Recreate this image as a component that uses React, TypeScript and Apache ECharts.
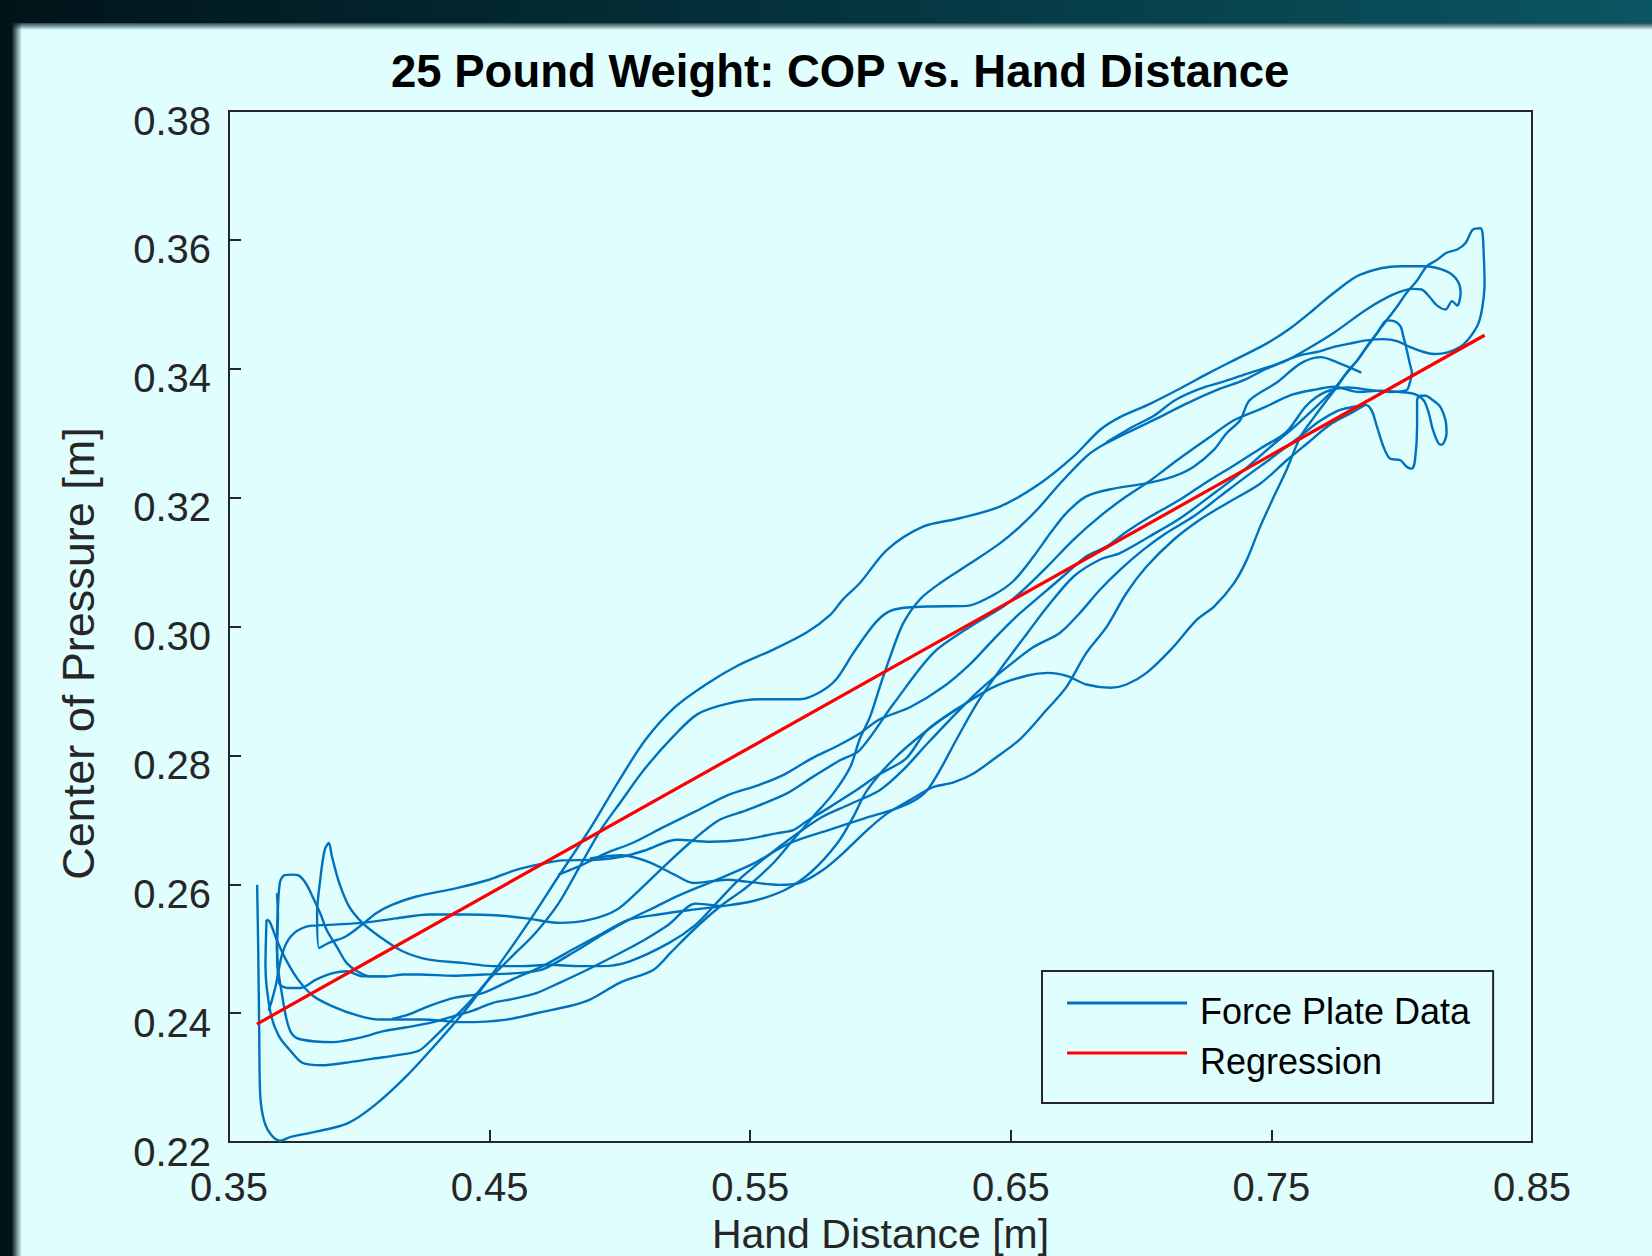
import React, { useEffect, useRef } from "react";
import * as echarts from "echarts";

const titleText = "25 Pound Weight: COP vs. Hand Distance";
const xName = "Hand Distance [m]";
const yName = "Center of Pressure [m]";
const legendNames = ["Force Plate Data", "Regression"];

const xTicks = { min: 0.35, max: 0.85, step: 0.1 };
const yTicks = { min: 0.22, max: 0.38, step: 0.02 };

// Force plate trajectory, split into passes (hand distance [m], COP [m])
const pass1: [number, number][] = [
  [0.3608,0.2599],[0.3612,0.2501],[0.3616,0.2370],[0.3620,0.2272],[0.3636,0.2231],[0.3664,0.2210],[0.3697,0.2202],[0.3737,0.2208],[0.3834,0.2216],[0.3955,0.2229],[0.4056,0.2256],[0.4178,0.2301],[0.4299,0.2354],[0.4420,0.2411],[0.4529,0.2471],[0.4643,0.2537],[0.4764,0.2612],[0.4885,0.2686],[0.4986,0.2754],[0.5096,0.2823],[0.5209,0.2874],[0.5330,0.2910],[0.5451,0.2939],[0.5593,0.2965],[0.5718,0.2991],[0.5807,0.3018],[0.5856,0.3042],[0.5920,0.3067],[0.6025,0.3119],[0.6163,0.3155],[0.6304,0.3168],[0.6458,0.3186],[0.6612,0.3222],[0.6741,0.3264],[0.6842,0.3305],[0.6919,0.3325],[0.7036,0.3346],[0.7162,0.3372],[0.7263,0.3394],[0.7380,0.3418],[0.7481,0.3439],[0.7570,0.3462],[0.7663,0.3492],[0.7740,0.3518],[0.7841,0.3546],[0.7995,0.3559],[0.8084,0.3559],[0.8173,0.3551],[0.8213,0.3537],[0.8226,0.3518],[0.8213,0.3498],[0.8193,0.3505],[0.8169,0.3492],[0.8136,0.3498],[0.8108,0.3511],[0.8076,0.3523],[0.8043,0.3524],[0.7966,0.3515],[0.7865,0.3492],[0.7740,0.3456],[0.7635,0.3430],[0.7558,0.3413],[0.7481,0.3400],[0.7392,0.3382],[0.7303,0.3369],[0.7174,0.3346],[0.7061,0.3323],[0.6943,0.3300],[0.6842,0.3279],[0.6790,0.3264],[0.6689,0.3222],[0.6612,0.3186],[0.6535,0.3155],[0.6458,0.3129],[0.6345,0.3098],[0.6228,0.3067],[0.6151,0.3042],[0.6086,0.3004],[0.6038,0.2954],[0.5997,0.2906],[0.5961,0.2861],[0.5920,0.2825],[0.5884,0.2782],[0.5819,0.2741],[0.5742,0.2705],[0.5665,0.2669],[0.5589,0.2633],[0.5488,0.2596],[0.5383,0.2565],[0.5282,0.2529],[0.5193,0.2493],[0.5128,0.2467],[0.4999,0.2447],[0.4885,0.2421],[0.4808,0.2411],[0.4691,0.2401],[0.4566,0.2390],[0.4400,0.2386],[0.4239,0.2390],[0.4077,0.2390],[0.3996,0.2396],[0.3895,0.2411],[0.3822,0.2427],[0.3765,0.2452],[0.3721,0.2481],[0.3685,0.2512],[0.3656,0.2542],[0.3644,0.2545]
];

const pass2: [number, number][] = [
  [0.3644,0.2545],[0.3640,0.2473],[0.3660,0.2399],[0.3692,0.2364],[0.3737,0.2341],[0.3781,0.2323],[0.3858,0.2319],[0.3947,0.2323],[0.4048,0.2329],[0.4166,0.2336],[0.4230,0.2342],[0.4279,0.2359],[0.4344,0.2385],[0.4420,0.2416],[0.4497,0.2452],[0.4586,0.2488],[0.4675,0.2524],[0.4764,0.2570],[0.4845,0.2627],[0.4926,0.2684],[0.5007,0.2730],[0.5091,0.2777],[0.5204,0.2829],[0.5298,0.2864],[0.5410,0.2880],[0.5536,0.2887],[0.5690,0.2887],[0.5767,0.2898],[0.5832,0.2919],[0.5896,0.2959],[0.5985,0.3008],[0.6050,0.3026],[0.6179,0.3031],[0.6333,0.3032],[0.6434,0.3049],[0.6511,0.3071],[0.6588,0.3109],[0.6652,0.3145],[0.6713,0.3176],[0.6790,0.3202],[0.6895,0.3214],[0.7020,0.3222],[0.7125,0.3233],[0.7202,0.3248],[0.7279,0.3274],[0.7328,0.3300],[0.7380,0.3320],[0.7416,0.3351],[0.7522,0.3379],[0.7611,0.3408],[0.7688,0.3418],[0.7764,0.3408],[0.7845,0.3394]
];

const pass3: [number, number][] = [
  [0.6305,0.2875],[0.6179,0.2839],
  [0.6098,0.2795],[0.5997,0.2771],[0.5896,0.2743],[0.5795,0.2717],[0.5714,0.2697],
  [0.5665,0.2684],[0.5600,0.2679],[0.5472,0.2669],[0.5346,0.2666],[0.5217,0.2669],[0.5100,0.2653],[0.5011,0.2643],[0.4906,0.2638],[0.4781,0.2637],[0.4704,0.2632],[0.4599,0.2622],[0.4498,0.2607],[0.4373,0.2594],[0.4219,0.2581],[0.4125,0.2568],[0.4065,0.2555],[0.4000,0.2534],[0.3948,0.2519],[0.3883,0.2509],[0.3846,0.2501],[0.3838,0.2555],[0.3850,0.2607],[0.3867,0.2653],[0.3883,0.2664],[0.3895,0.2643],[0.3923,0.2602],[0.3960,0.2566],[0.4012,0.2540],[0.4077,0.2519],[0.4166,0.2496],[0.4267,0.2483],[0.4396,0.2478],[0.4509,0.2473],[0.4627,0.2473],[0.4728,0.2475],[0.4845,0.2473],[0.4934,0.2473],[0.5035,0.2480],[0.5189,0.2509],[0.5290,0.2537],[0.5371,0.2571],[0.5451,0.2605],[0.5564,0.2643],[0.5665,0.2674],[0.5774,0.2704],[0.5876,0.2723],[0.5997,0.2746],[0.6086,0.2777],[0.6179,0.2818],[0.6268,0.2856],[0.6369,0.2897],[0.6458,0.2928],[0.6587,0.2968],[0.6688,0.2990],[0.6765,0.3021],[0.6842,0.3057],[0.6919,0.3088],[0.7008,0.3119],[0.7097,0.3145],[0.7202,0.3171],[0.7303,0.3202],[0.7404,0.3233],[0.7509,0.3264],[0.7610,0.3295],[0.7683,0.3318],[0.7756,0.3335],[0.7817,0.3341],[0.7861,0.3344],[0.7885,0.3335],[0.7905,0.3310],[0.7930,0.3279],[0.7954,0.3261],[0.7995,0.3258],[0.8019,0.3248],[0.8039,0.3245],[0.8051,0.3258],[0.8059,0.3310],[0.8059,0.3351],[0.8071,0.3358],[0.8091,0.3358],[0.8120,0.3351],[0.8148,0.3341],[0.8168,0.3320],[0.8172,0.3300],[0.8160,0.3284],[0.8148,0.3282],[0.8120,0.3305],[0.8104,0.3331],[0.8084,0.3351],[0.8047,0.3361],[0.7991,0.3364],[0.7918,0.3366],[0.7837,0.3364],[0.7740,0.3372],[0.7659,0.3367],[0.7574,0.3359],[0.7473,0.3340],[0.7356,0.3320],[0.7267,0.3295],[0.7138,0.3258],[0.7037,0.3227],[0.6944,0.3202],[0.6842,0.3171],[0.6741,0.3135],[0.6640,0.3093],[0.6535,0.3052],[0.6471,0.3031],[0.6345,0.3000],[0.6203,0.2959],[0.6050,0.2880],[0.5920,0.2808],[0.5843,0.2792],[0.5742,0.2767],[0.5641,0.2741],[0.5487,0.2715],[0.5383,0.2700],[0.5282,0.2669],[0.5168,0.2627],[0.5075,0.2591],[0.4986,0.2560],[0.4885,0.2545],[0.4768,0.2540],[0.4643,0.2547],[0.4521,0.2552],[0.4400,0.2553],[0.4266,0.2553],[0.4141,0.2547],[0.4012,0.2540],[0.3883,0.2537],[0.3794,0.2534],[0.3737,0.2519],[0.3705,0.2493],[0.3680,0.2444],[0.3664,0.2419],[0.3652,0.2404]
];

const pass4: [number, number][] = [
  [0.5391,0.2566],[0.5290,0.2570],[0.5189,0.2538],
  [0.5087,0.2512],[0.4999,0.2493],[0.4873,0.2467],[0.4768,0.2447],[0.4679,0.2431],[0.4590,0.2422],[0.4513,0.2416],[0.4436,0.2404],[0.4360,0.2395],[0.4283,0.2386],[0.4182,0.2378],[0.4093,0.2372],[0.4004,0.2362],[0.3899,0.2355],[0.3777,0.2359],[0.3741,0.2368],[0.3721,0.2390],[0.3701,0.2435],[0.3688,0.2471],[0.3684,0.2514],[0.3688,0.2565],[0.3696,0.2604],[0.3713,0.2614],[0.3741,0.2615],[0.3765,0.2614],[0.3794,0.2602],[0.3818,0.2583],[0.3850,0.2555],[0.3875,0.2529],[0.3915,0.2502],[0.3951,0.2478],[0.3992,0.2465],[0.4040,0.2457],[0.4105,0.2457],[0.4170,0.2460],[0.4234,0.2460],[0.4360,0.2458],[0.4481,0.2460],[0.4603,0.2462],[0.4704,0.2468],[0.4829,0.2496],[0.4934,0.2522],[0.5035,0.2545],[0.5137,0.2565],[0.5229,0.2583],[0.5371,0.2607],[0.5512,0.2632],[0.5653,0.2664],[0.5815,0.2686],[0.5936,0.2702],[0.6057,0.2717],[0.6130,0.2730],[0.6179,0.2746],[0.6228,0.2777],[0.6292,0.2825],[0.6369,0.2880],[0.6459,0.2933],[0.6564,0.2990],[0.6641,0.3031],[0.6742,0.3078],[0.6843,0.3104],[0.6919,0.3114],[0.7029,0.3139],[0.7150,0.3168],[0.7271,0.3204],[0.7393,0.3242],[0.7494,0.3278],[0.7575,0.3305],[0.7656,0.3335],[0.7737,0.3367],[0.7790,0.3394],[0.7830,0.3413],[0.7867,0.3434],[0.7907,0.3456],[0.7943,0.3475],[0.7971,0.3474],[0.7995,0.3466],[0.8007,0.3449],[0.8019,0.3430],[0.8031,0.3408],[0.8039,0.3394],[0.8031,0.3378],[0.8019,0.3367],[0.7958,0.3364],[0.7877,0.3367],[0.7797,0.3371],[0.7708,0.3364],[0.7635,0.3343],[0.7558,0.3302],[0.7457,0.3276],[0.7356,0.3250],[0.7251,0.3224],[0.7150,0.3197],[0.7037,0.3171],[0.6944,0.3147],[0.6867,0.3124],[0.6790,0.3109],[0.6701,0.3078],[0.6612,0.3047],[0.6523,0.3016],[0.6434,0.2980],[0.6345,0.2942],[0.6240,0.2906],[0.6115,0.2875],[0.5997,0.2856],[0.5920,0.2834],[0.5836,0.2815],[0.5735,0.2795],[0.5634,0.2771],[0.5533,0.2754],[0.5412,0.2738],[0.5290,0.2713],[0.5169,0.2689],[0.5048,0.2664],[0.4946,0.2648],[0.4845,0.2628],[0.4764,0.2615]
];

const pass5: [number, number][] = [
  [0.4126,0.2391],[0.4190,0.2398],[0.4267,0.2411],[0.4368,0.2424],[0.4473,0.2431],[0.4586,0.2452],[0.4704,0.2473],[0.4829,0.2501],[0.4934,0.2524],[0.5035,0.2545],[0.5148,0.2553],[0.5269,0.2560],[0.5391,0.2566],[0.5512,0.2574],[0.5633,0.2591],[0.5734,0.2619],[0.5835,0.2664],[0.5896,0.2705],[0.5949,0.2746],[0.6050,0.2794],[0.6179,0.2839],[0.6305,0.2875],[0.6434,0.2906],[0.6564,0.2924],[0.6641,0.2928],[0.6717,0.2923],[0.6790,0.2910],[0.6883,0.2905],[0.6944,0.2910],[0.7021,0.2928],[0.7114,0.2964],[0.7215,0.3011],[0.7280,0.3031],[0.7356,0.3067],[0.7405,0.3103],[0.7457,0.3155],[0.7510,0.3202],[0.7558,0.3243],[0.7611,0.3294],[0.7664,0.3325],[0.7712,0.3351],[0.7752,0.3372],[0.7789,0.3394],[0.7829,0.3413],[0.7865,0.3434],[0.7906,0.3456],[0.7942,0.3475],[0.7983,0.3497],[0.8019,0.3518],[0.8059,0.3537],[0.8096,0.3559],[0.8136,0.3569],[0.8172,0.3580],[0.8213,0.3585],[0.8245,0.3595],[0.8273,0.3616],[0.8302,0.3618],[0.8310,0.3611],[0.8314,0.3585],[0.8318,0.3533],[0.8310,0.3497],[0.8294,0.3470],[0.8262,0.3449],[0.8225,0.3434],[0.8173,0.3425],[0.8124,0.3423],[0.8084,0.3426],[0.8031,0.3434],[0.7982,0.3443],[0.7930,0.3446],[0.7865,0.3444],[0.7800,0.3439],[0.7740,0.3434],[0.7675,0.3426],[0.7611,0.3421],[0.7506,0.3405],[0.7405,0.3392],[0.7316,0.3380],[0.7227,0.3369],[0.7130,0.3351],[0.7049,0.3327],[0.6968,0.3310],[0.6867,0.3286]
];

const pass6: [number, number][] = [
  [0.3684,0.2586],[0.3688,0.2550],[0.3684,0.2501],[0.3688,0.2460],[0.3696,0.2444],[0.3733,0.2439],[0.3773,0.2439],[0.3834,0.2452],[0.3899,0.2462],[0.3951,0.2465],[0.4016,0.2457],[0.4105,0.2457]
];

const pass7: [number, number][] = [
  [0.4885,0.2640],[0.5006,0.2645],[0.5107,0.2635],[0.5209,0.2615],[0.5282,0.2602],[0.5411,0.2607],[0.5488,0.2604],[0.5613,0.2599],[0.5690,0.2602],[0.5779,0.2622],[0.5856,0.2648],[0.5949,0.2684],[0.6026,0.2710],[0.6115,0.2731],[0.6204,0.2751],[0.6280,0.2758],[0.6357,0.2772],[0.6434,0.2794],[0.6535,0.2825],[0.6636,0.2870],[0.6713,0.2906],[0.6790,0.2959],[0.6867,0.2999],[0.6944,0.3052],[0.7021,0.3093],[0.7126,0.3135],[0.7227,0.3166],[0.7328,0.3191],[0.7458,0.3222],[0.7559,0.3258],[0.7643,0.3286],[0.7724,0.3313],[0.7805,0.3331],[0.7861,0.3344]
];

const regressionLine: [number, number][] = [
  [0.3607, 0.2383],
  [0.8318, 0.3452],
];

const FONT = "'Liberation Sans', Arial, Helvetica, sans-serif";
const PANEL = "#e0fefe";
const AXIS = "#262626";
const BLUE = "#0072BD";
const RED = "#FF0000";

export default function App() {
  const ref = useRef<HTMLDivElement>(null);

  useEffect(() => {
    if (!ref.current) return;
    const chart = echarts.init(ref.current, null, { renderer: "svg" });
    const passes = [pass1, pass2, pass3, pass4, pass5, pass6, pass7];
    const forceSeries = passes.map((d) => ({
      name: legendNames[0],
      type: "line",
      data: d,
      showSymbol: false,
      symbol: "none",
      smooth: 0.3,
      lineStyle: { color: BLUE, width: 2.4 },
      itemStyle: { color: BLUE, borderWidth: 0 },
      z: 2,
    }));

    chart.setOption({
      animation: false,
      backgroundColor: PANEL,
      title: {
        text: titleText,
        left: 391,
        top: 48,
        padding: 0,
        textStyle: { fontFamily: FONT, fontSize: 45.5, fontWeight: "bold", color: "#000" },
      },
      legend: {
        orient: "vertical",
        left: 1042,
        top: 971,
        padding: [6, 23, 24, 25],
        itemGap: -2,
        itemWidth: 120,
        itemHeight: 3,
        icon: "rect",
        selectedMode: false,
        data: legendNames,
        itemStyle: { borderWidth: 0 },
        formatter: (name: string) => `{t|${name}}`,
        textStyle: {
          fontFamily: FONT,
          fontSize: 36,
          color: "#000",
          rich: {
            t: {
              fontFamily: FONT,
              fontSize: 36,
              color: "#000",
              lineHeight: 20,
              padding: [16, 0, 0, 8],
            },
          },
        },
        borderColor: AXIS,
        borderWidth: 2,
        backgroundColor: PANEL,
      },
      grid: {
        left: 229,
        right: 120,
        top: 111,
        bottom: 114,
        show: true,
        borderColor: AXIS,
        borderWidth: 2,
        backgroundColor: "transparent",
        outerBoundsMode: "none",
      },
      xAxis: {
        type: "value",
        min: xTicks.min,
        max: xTicks.max,
        interval: xTicks.step,
        axisLine: { show: true, lineStyle: { color: AXIS, width: 2 } },
        axisTick: { show: true, inside: true, length: 12, lineStyle: { color: AXIS, width: 2 } },
        axisLabel: {
          color: AXIS,
          fontFamily: FONT,
          fontSize: 40,
          margin: 25,
          formatter: (v: number) => v.toFixed(2),
        },
        splitLine: { show: false },
        name: xName,
        nameLocation: "middle",
        nameGap: 71,
        nameMoveOverlap: false,
        nameTextStyle: { fontFamily: FONT, fontSize: 41, color: AXIS },
      },
      yAxis: {
        type: "value",
        min: yTicks.min,
        max: yTicks.max,
        interval: yTicks.step,
        axisLine: { show: true, lineStyle: { color: AXIS, width: 2 } },
        axisTick: { show: true, inside: true, length: 12, lineStyle: { color: AXIS, width: 2 } },
        axisLabel: {
          color: AXIS,
          fontFamily: FONT,
          fontSize: 40,
          margin: 18,
          verticalAlign: "top",
          lineHeight: 19,
          formatter: (v: number) => v.toFixed(2),
        },
        splitLine: { show: false },
        name: yName,
        nameLocation: "middle",
        nameGap: 128,
        nameMoveOverlap: false,
        nameTextStyle: { fontFamily: FONT, fontSize: 45, color: AXIS, padding: [0, 54, 0, 0] },
      },
      graphic: [
        {
          type: "rect",
          silent: true,
          shape: { x: 0, y: 0, width: 1652, height: 23 },
          style: {
            fill: new echarts.graphic.LinearGradient(0, 0, 1, 0, [
              { offset: 0, color: "#011419" },
              { offset: 0.45, color: "#04303a" },
              { offset: 1, color: "#0a5662" },
            ]),
          },
        },
        {
          type: "rect",
          silent: true,
          shape: { x: 0, y: 23, width: 1652, height: 7 },
          style: {
            fill: new echarts.graphic.LinearGradient(0, 0, 0, 1, [
              { offset: 0, color: "rgba(3,38,46,0.85)" },
              { offset: 1, color: "rgba(3,38,46,0)" },
            ]),
          },
        },
        {
          type: "rect",
          silent: true,
          shape: { x: 0, y: 0, width: 12, height: 1256 },
          style: { fill: "#011418" },
        },
        {
          type: "rect",
          silent: true,
          shape: { x: 12, y: 20, width: 10, height: 1236 },
          style: {
            fill: new echarts.graphic.LinearGradient(0, 0, 1, 0, [
              { offset: 0, color: "rgba(1,20,24,0.95)" },
              { offset: 1, color: "rgba(1,20,24,0)" },
            ]),
          },
        },
      ],
      series: [
        ...forceSeries,
        {
          name: legendNames[1],
          type: "line",
          data: regressionLine,
          showSymbol: false,
          symbol: "none",
          lineStyle: { color: RED, width: 3.2 },
          itemStyle: { color: RED, borderWidth: 0 },
          z: 3,
        },
      ],
    });

    return () => chart.dispose();
  }, []);

  return (
    <div
      ref={ref}
      style={{ position: "absolute", left: 0, top: 0, width: 1652, height: 1256 }}
    />
  );
}
